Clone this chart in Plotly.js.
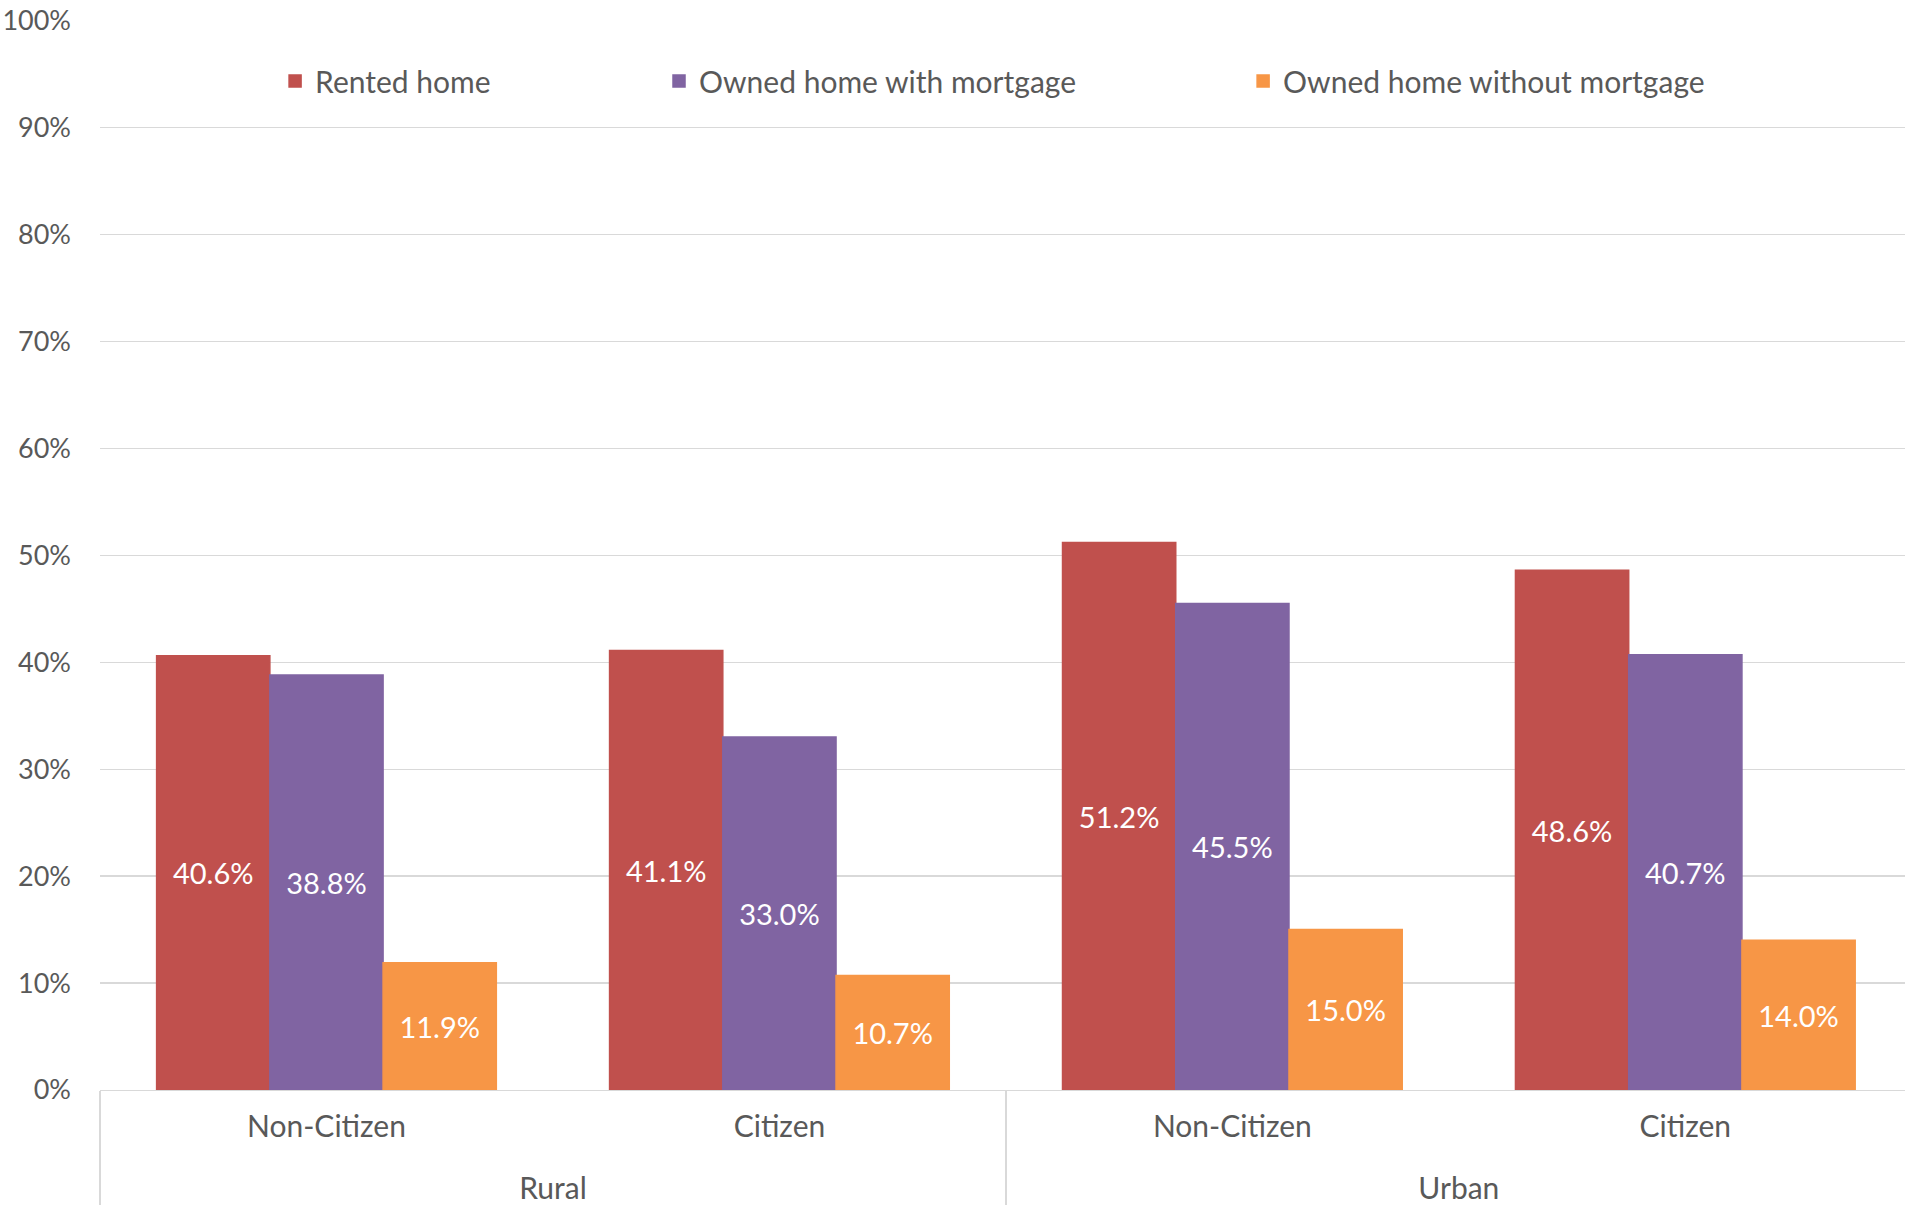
<!DOCTYPE html>
<html>
<head>
<meta charset="utf-8">
<script src="https://cdn.plot.ly/plotly-3.0.1.min.js"></script>
<style>
  html, body { margin: 0; padding: 0; background: #ffffff; }
  #chart { width: 1905px; height: 1205px; }
</style>
</head>
<body>
<div id="chart"></div>
<script>
// ---- Data ----
const areaGroups = ["Rural", "Rural", "Urban", "Urban"];
const citizenship = ["Non-Citizen", "Citizen", "Non-Citizen", "Citizen"];
const seriesNames = ["Rented home", "Owned home with mortgage", "Owned home without mortgage"];
const rentedHome = [40.6, 41.1, 51.2, 48.6];
const ownedWithMortgage = [38.8, 33.0, 45.5, 40.7];
const ownedWithoutMortgage = [11.9, 10.7, 15.0, 14.0];
const yTickValues = [0, 10, 20, 30, 40, 50, 60, 70, 80, 90, 100];

// ---- Styles ----
const colors = ["#C0504D", "#8064A2", "#F79646"];
const fontFamily = "'Gill Sans', 'Gill Sans MT', Lato, 'Open Sans', sans-serif";
const textGrey = "#595959";
const gridGrey = "#d9d9d9";

const seriesValues = [rentedHome, ownedWithMortgage, ownedWithoutMortgage];
const legendIds = ["legend", "legend2", "legend3"];

// first-level labels get a tiny trailing line to widen the gap to the second level
const citizenLabels = citizenship.map(c => c + "<br><span style='font-size:4px'>&nbsp;</span>");

const traces = seriesValues.map((vals, i) => ({
  type: "bar",
  name: seriesNames[i],
  x: [areaGroups, citizenLabels],
  y: vals,
  marker: { color: colors[i], line: { width: 1.5, color: colors[i] } },
  texttemplate: "%{y:.1f}%",
  textposition: "inside",
  insidetextanchor: "middle",
  textangle: 0,
  constraintext: "none",
  textfont: { family: fontFamily, size: 29, color: "#ffffff" },
  hoverinfo: "skip",
  legend: legendIds[i]
}));

const legendBase = {
  orientation: "h",
  yanchor: "middle",
  y: 0.943,
  xanchor: "left",
  bgcolor: "rgba(0,0,0,0)",
  font: { family: fontFamily, size: 30, color: textGrey },
  itemclick: false,
  itemdoubleclick: false
};

const layout = {
  width: 1905,
  height: 1205,
  margin: { l: 100, r: 0, t: 20, b: 115 },
  paper_bgcolor: "#ffffff",
  plot_bgcolor: "#ffffff",
  font: { family: fontFamily, size: 29, color: textGrey },
  barmode: "group",
  bargap: 0.25,
  bargroupgap: 0,
  showlegend: true,
  legend: Object.assign({}, legendBase, { x: 0.0970 }),
  legend2: Object.assign({}, legendBase, { x: 0.3097 }),
  legend3: Object.assign({}, legendBase, { x: 0.6333 }),
  xaxis: {
    type: "multicategory",
    range: [-0.5, 3.485],
    showline: true,
    linecolor: gridGrey,
    linewidth: 1.3,
    showdividers: true,
    dividercolor: gridGrey,
    dividerwidth: 1.3,
    ticks: "",
    ticklabelstandoff: 10,
    showgrid: false,
    tickfont: { family: fontFamily, size: 30, color: textGrey },
    fixedrange: true
  },
  yaxis: {
    range: [0, 100.05],
    tickvals: yTickValues,
    ticktext: yTickValues.map(v => v + "%"),
    showgrid: true,
    gridcolor: gridGrey,
    gridwidth: 1.3,
    zeroline: false,
    showline: false,
    ticks: "",
    ticklabelstandoff: 28,
    tickfont: { family: fontFamily, size: 27, color: textGrey },
    fixedrange: true
  }
};

Plotly.newPlot("chart", traces, layout, { displayModeBar: false, staticPlot: true });
</script>
</body>
</html>
